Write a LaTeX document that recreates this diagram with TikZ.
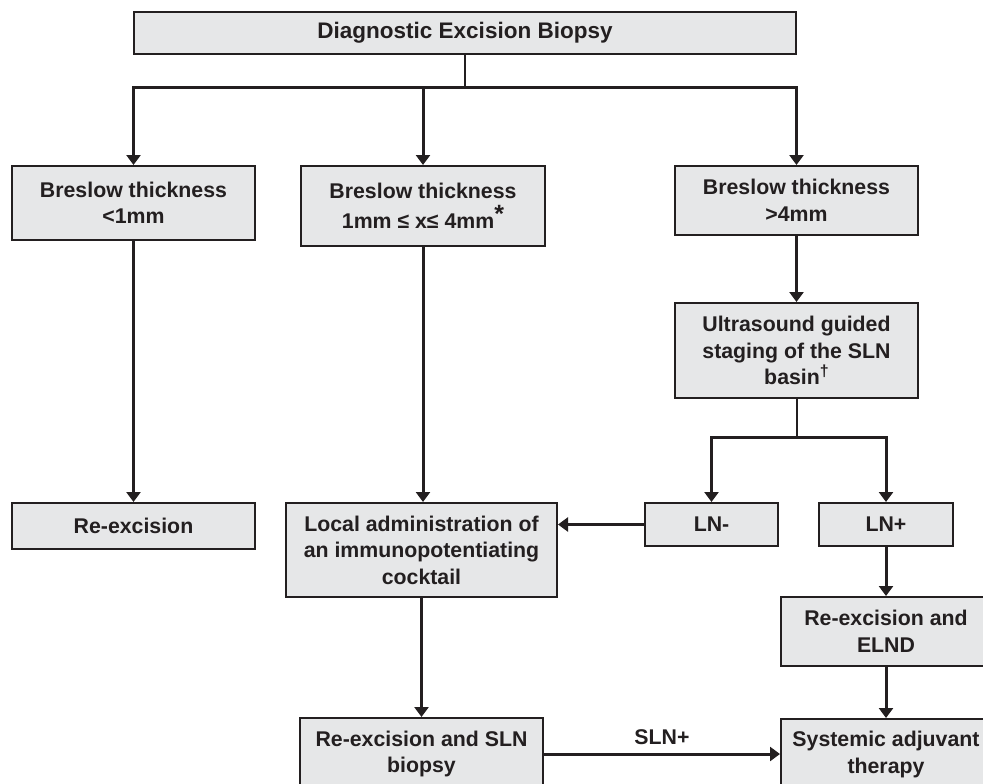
\documentclass[tikz,border=0pt]{standalone}
\usepackage{fontspec}
\setmainfont{Liberation Sans}
\usetikzlibrary{arrows.meta}
\definecolor{boxfill}{HTML}{E6E7E8}
\definecolor{inkline}{HTML}{231F20}

\begin{document}
\begin{tikzpicture}[x=1pt,y=-1pt,
    box/.style={draw=inkline, line width=2pt, fill=boxfill, align=center, inner sep=0pt,
      text=inkline, font=\fontsize{21.3}{26.5}\selectfont\bfseries},
    link/.style={draw=inkline, line width=3pt, -{Triangle[width=14pt,length=10pt]}},
    plain/.style={draw=inkline, line width=2pt}]
  \useasboundingbox (0,0) rectangle (983,784);
  \clip (0,0) rectangle (983,784);

  \node[box, minimum width=662pt, minimum height=42pt, font=\fontsize{22.5}{27}\selectfont\bfseries] (biopsy) at (465,33) {Diagnostic Excision Biopsy};
  \node[box, minimum width=243pt, minimum height=74pt] (thin) at (133.5,203) {Breslow thickness\\<1mm};
  \node[box, minimum width=244pt, minimum height=80pt] (mid) at (423,206) {Breslow thickness\\[3pt]1mm ≤ x≤ 4mm\raisebox{0.3em}{\fontsize{25}{25}\selectfont *}};
  \node[box, minimum width=243pt, minimum height=69pt] (thick) at (796.5,200.5) {Breslow thickness\\>4mm};
  \node[box, minimum width=243pt, minimum height=95pt] (ultra) at (796.5,350.5) {Ultrasound guided\\staging of the SLN\\basin\raisebox{0.4em}{\fontsize{16}{16}\selectfont\textdagger}};
  \node[box, minimum width=243pt, minimum height=46pt] (reexc) at (133.5,526) {Re-excision};
  \node[box, minimum width=271pt, minimum height=94pt] (local) at (421.5,550) {Local administration of\\an immunopotentiating\\cocktail};
  \node[box, minimum width=133pt, minimum height=43pt] (lnneg) at (711.5,524.5) {LN-};
  \node[box, minimum width=134pt, minimum height=43pt] (lnpos) at (886,524.5) {LN+};
  \node[box, minimum width=210pt, minimum height=69pt] (elnd) at (886,631.5) {Re-excision and\\ELND};
  \node[box, minimum width=243pt, minimum height=72pt] (slnb) at (421.5,754) {Re-excision and SLN\\biopsy};
  \node[box, minimum width=210pt, minimum height=71pt] (sys) at (886,754.5) {Systemic adjuvant\\therapy};

  \coordinate (split) at (465,88);
  \coordinate (lnsplit) at (796.5,437);

  \draw[plain] (biopsy.south) -- (split);
  \draw[link] (split) -| (thin.north);
  \draw[link] (split) -| (thick.north);
  \draw[link] (split -| mid.north) -- (mid.north);
  \draw[link] (thin) -- (reexc);
  \draw[link] (mid.south) -- (mid.south |- local.north);
  \draw[link] (thick) -- (ultra);
  \draw[plain] (ultra.south) -- (lnsplit);
  \draw[link] (lnsplit) -| (lnneg.north);
  \draw[link] (lnsplit) -| (lnpos.north);
  \draw[link] (lnneg.west) -- (lnneg.west -| local.east);
  \draw[link] (lnpos) -- (elnd);
  \draw[link] (elnd) -- (sys);
  \draw[link] (local) -- (slnb);
  \draw[link] (slnb.east) -- (slnb.east -| sys.west)
    node[midway, above=8pt, inner sep=0pt, text=inkline, font=\fontsize{21.3}{26}\selectfont\bfseries] (slnpos) {SLN+};
\end{tikzpicture}
\end{document}
